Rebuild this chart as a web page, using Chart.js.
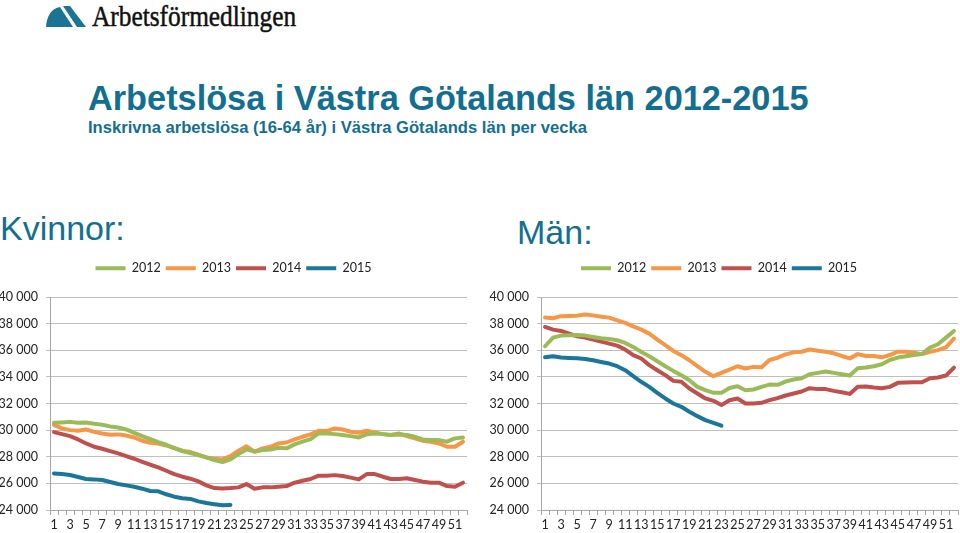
<!DOCTYPE html>
<html lang="sv">
<head>
<meta charset="utf-8">
<title>Arbetslösa i Västra Götalands län 2012-2015</title>
<script src="https://cdn.jsdelivr.net/npm/chart.js@4.4.1/dist/chart.umd.min.js"></script>
<style>
  html, body { margin: 0; padding: 0; background: #fff; }
  body { width: 960px; height: 533px; position: relative; overflow: hidden; }
  .abs { position: absolute; white-space: nowrap; }
  #logoText { left: 92px; top: 1px; font: 30px "Liberation Serif", serif; line-height: 30px; color: #111;
    transform: scaleX(0.845); transform-origin: left top; -webkit-text-stroke: 0.5px #111; }
  #title { left: 88px; top: 81px; font: bold 34.3px "Liberation Sans", Arial, sans-serif; line-height: 1; color: #136f90; }
  #subtitle { left: 88px; top: 120px; font: bold 16.6px "Liberation Sans", Arial, sans-serif; line-height: 1; color: #136f90; }
  .head { font: 34px "Liberation Sans", Arial, sans-serif; line-height: 1; color: #136f90; }
  #kv { left: 0px; top: 211px; }
  #man { left: 517px; top: 215px; }
  canvas { position: absolute; }
  #chartK { left: 0px; top: 250px; }
  #chartM { left: 480px; top: 250px; }
</style>
</head>
<body>
<svg class="abs" style="left:46px;top:5px" width="40" height="22" viewBox="0 0 40 22">
  <path d="M0,22 C0.5,11 6,3 14,2 L27,22 Z" fill="#1a7595"/>
  <path d="M17,1 L24,1 L40,22 L31,22 Z" fill="#1a7595"/>
</svg>
<div class="abs" id="logoText">Arbetsförmedlingen</div>
<div class="abs" id="title">Arbetslösa i Västra Götalands län 2012-2015</div>
<div class="abs" id="subtitle">Inskrivna arbetslösa (16-64 år) i Västra Götalands län per vecka</div>
<div class="abs head" id="kv">Kvinnor:</div>
<div class="abs head" id="man">Män:</div>
<canvas id="chartK" width="474" height="283"></canvas>
<canvas id="chartM" width="480" height="283"></canvas>
<script>
var weeks = ["1","2","3","4","5","6","7","8","9","10","11","12","13","14","15","16","17","18","19","20",
  "21","22","23","24","25","26","27","28","29","30","31","32","33","34","35","36","37","38","39","40",
  "41","42","43","44","45","46","47","48","49","50","51","52"];
var years = ["2012", "2013", "2014", "2015"];
var colors = ["#9bbb59", "#f79646", "#c0504d", "#1a7799"];
var yTicks = [24000, 26000, 28000, 30000, 32000, 34000, 36000, 38000, 40000];

// Kvinnor
var kv2012 = [30550,30580,30620,30550,30580,30480,30400,30280,30200,30050,
  29800,29550,29320,29100,28900,28650,28420,28280,28120,27950,
  27750,27600,27800,28200,28550,28380,28500,28550,28680,28630,
  28930,29130,29330,29750,29750,29700,29630,29550,29450,29680,
  29750,29700,29630,29680,29630,29500,29300,29250,29250,29130,
  29380,29450];
var kv2013 = [30400,30130,30000,29950,30050,29870,29750,29650,29680,29600,
  29450,29200,29050,29000,28850,28650,28450,28350,28150,27950,
  27850,27800,28050,28450,28780,28380,28630,28750,29000,29070,
  29300,29500,29680,29950,29930,30130,30050,29880,29800,29950,
  29830,29700,29630,29750,29550,29380,29200,29130,29000,28750,
  28750,29130];
var kv2014 = [29850,29700,29550,29300,29000,28750,28600,28420,28250,28050,
  27850,27620,27400,27200,26950,26700,26500,26350,26150,25850,
  25650,25620,25650,25700,25950,25600,25700,25700,25750,25800,
  26050,26200,26330,26580,26580,26620,26550,26430,26300,26700,
  26700,26500,26330,26330,26380,26250,26130,26050,26050,25800,
  25750,26050];
var kv2015 = [26750,26700,26630,26480,26330,26300,26250,26100,25950,25850,
  25750,25600,25430,25400,25180,25000,24880,24830,24650,24520,
  24430,24350,24380];

// Män
var man2012 = [36300,36950,37100,37130,37150,37100,37000,36900,36850,36750,
  36550,36250,35870,35550,35170,34800,34450,34120,33750,33250,
  33000,32800,32800,33170,33300,33000,33050,33250,33420,33400,
  33650,33800,33900,34200,34300,34400,34300,34200,34100,34650,
  34700,34800,34950,35270,35450,35550,35650,35720,36200,36450,
  36950,37450];
var man2013 = [38460,38400,38560,38580,38600,38680,38620,38520,38450,38250,
  38050,37800,37550,37250,36800,36380,35950,35630,35250,34800,
  34380,34050,34300,34550,34800,34630,34750,34720,35270,35440,
  35690,35840,35890,36060,35960,35890,35770,35570,35390,35710,
  35570,35570,35470,35640,35890,35890,35820,35710,35890,36010,
  36210,36880];
var man2014 = [37750,37550,37450,37250,37050,36950,36800,36650,36500,36350,
  36050,35630,35380,34880,34500,34130,33700,33630,33130,32750,
  32380,32200,31880,32250,32380,32000,32000,32050,32250,32400,
  32600,32750,32900,33150,33080,33080,32950,32850,32720,33250,
  33270,33200,33150,33250,33550,33570,33600,33600,33900,33950,
  34100,34700];
var man2015 = [35470,35550,35450,35420,35400,35350,35250,35120,35000,34800,
  34500,34050,33630,33250,32800,32380,32000,31750,31380,31050,
  30750,30550,30330];

Chart.defaults.font.family = "Lato, 'Liberation Sans', sans-serif";
Chart.defaults.font.size = 12;
Chart.defaults.color = "#333";

function fmt(v) {
  return String(v).replace(/\B(?=(\d{3})+(?!\d))/g, " ");
}

// fixed legend height so the plot area starts where the original does
var legendHeight = {
  id: "legendHeight",
  beforeInit: function (chart) {
    var fit = chart.legend.fit;
    chart.legend.fit = function () {
      fit.call(this);
      this.height = 40;
    };
  },
};

function makeChart(id, series, yWidth, padRight) {
  var datasets = series.map(function (data, i) {
    return {
      label: years[i],
      data: data,
      borderColor: colors[i],
      backgroundColor: colors[i],
      borderWidth: 4,
      pointRadius: 0,
      tension: 0,
      fill: false,
      borderJoinStyle: "round",
      borderCapStyle: "round",
    };
  });
  return new Chart(document.getElementById(id), {
    type: "line",
    data: { labels: weeks, datasets: datasets },
    plugins: [legendHeight],
    options: {
      responsive: false,
      animation: false,
      layout: { padding: { top: 7, right: padRight, left: 0, bottom: 0 } },
      plugins: {
        tooltip: { enabled: false },
        legend: {
          position: "top",
          labels: {
            usePointStyle: true,
            pointStyle: "line",
            pointStyleWidth: 30,
            padding: 5,
            color: "#222",
            font: { size: 12.5 },
          },
        },
      },
      scales: {
        x: {
          offset: true,
          grid: { offset: true, drawOnChartArea: false, tickLength: 5, color: "#a6a6a6" },
          border: { color: "#a6a6a6" },
          ticks: {
            autoSkip: false,
            maxRotation: 0,
            minRotation: 0,
            padding: 2,
            color: "#222",
            font: { size: 12.5 },
            callback: function (v, i) {
              return i % 2 === 0 ? weeks[i] : "";
            },
          },
          afterFit: function (s) { s.height = 23; },
        },
        y: {
          min: yTicks[0],
          max: yTicks[yTicks.length - 1],
          grid: { color: "#bfbfbf", tickLength: 4 },
          border: { color: "#a6a6a6" },
          afterBuildTicks: function (s) {
            s.ticks = yTicks.map(function (v) { return { value: v }; });
          },
          ticks: {
            padding: 8,
            color: "#222",
            font: { size: 12.5 },
            callback: function (v) { return fmt(v); },
          },
          afterFit: function (s) { s.width = yWidth; },
        },
      },
    },
  });
}

makeChart("chartK", [kv2012, kv2013, kv2014, kv2015], 50, 7);
makeChart("chartM", [man2012, man2013, man2014, man2015], 61, 2);
</script>
</body>
</html>
